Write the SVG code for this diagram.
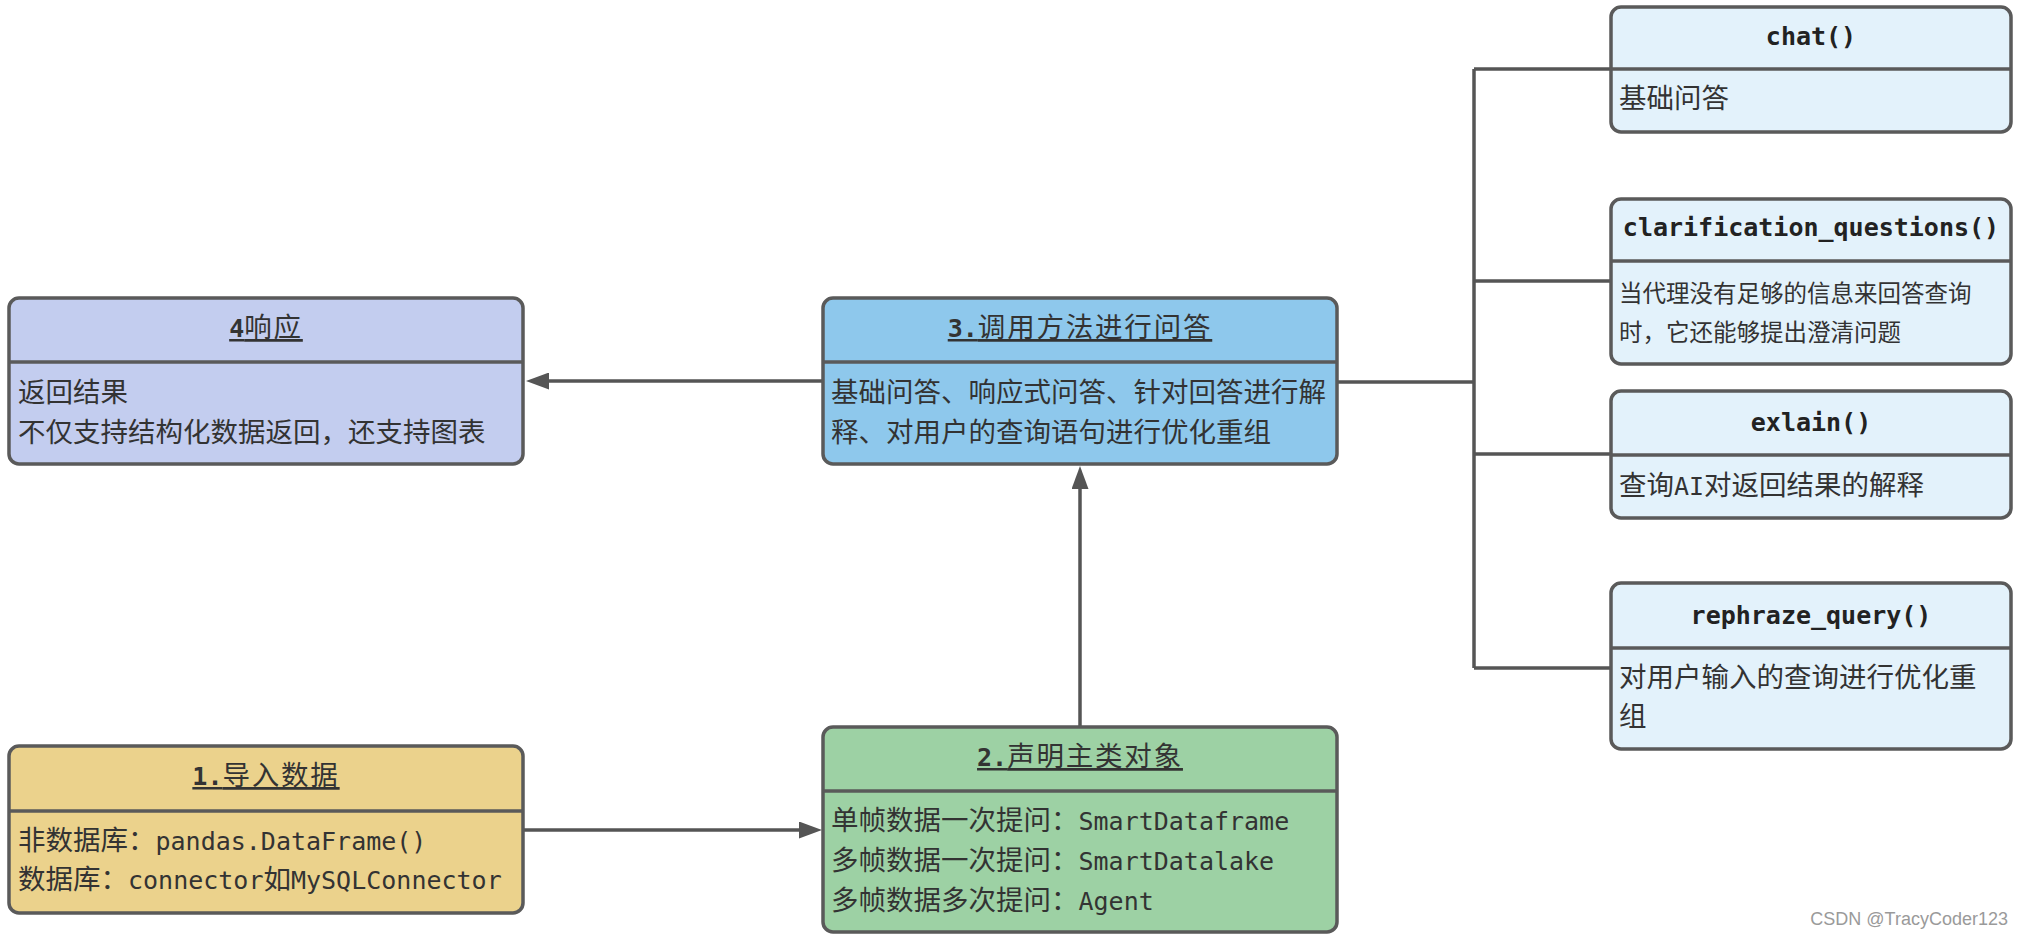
<svg xmlns="http://www.w3.org/2000/svg" width="2024" height="938" viewBox="0 0 2024 938">
<style>
  .box { stroke: #5a5a5a; stroke-width: 3.5; }
  .div { stroke: #5a5a5a; stroke-width: 3.5; }
  .blue4 { fill: #c3cdef; }
  .blue3 { fill: #8ec8ec; }
  .yellow { fill: #ebd28c; }
  .green { fill: #9dd1a4; }
  .light { fill: #e3f2fb; }
  text { font-family: "Noto Sans CJK SC", "Noto Sans", sans-serif; fill: #333; }
  .t { font-size: 27.5px; letter-spacing: 1.8px; text-decoration: underline; }
  .b { font-size: 27.5px; }
  .bs { font-size: 23.5px; }
  .m { font-family: "DejaVu Sans Mono", "Liberation Mono", monospace; font-size: 25px; }
  .mb { font-family: "DejaVu Sans Mono", "Liberation Mono", monospace; font-size: 25px; font-weight: bold; letter-spacing: 0; }
  .rt { font-family: "DejaVu Sans Mono", "Liberation Mono", monospace; font-size: 25px; font-weight: bold; fill: #222; }
  .wm { font-family: "Liberation Sans", Arial, sans-serif; font-size: 18px; fill: #9a9a9a; }
  .conn { fill: none; stroke: #555; stroke-width: 3.5; }
</style>
<defs>
  <marker id="arrow" viewBox="0 0 23 17" markerWidth="23" markerHeight="17" refX="0" refY="8.5" orient="auto" markerUnits="userSpaceOnUse">
    <path d="M0,0 L23,8.5 L0,17 z" fill="#555"/>
  </marker>
</defs>
<rect width="2024" height="938" fill="#ffffff"/>

<g id="connectors">
  <path class="conn" d="M823,381 H549" marker-end="url(#arrow)"/>
  <path class="conn" d="M524,830 H799" marker-end="url(#arrow)"/>
  <path class="conn" d="M1080,727 V489" marker-end="url(#arrow)"/>
  <path class="conn" d="M1337,382 H1474"/>
  <path class="conn" d="M1474,69 V668"/>
  <path class="conn" d="M1474,69 H1611"/>
  <path class="conn" d="M1474,281 H1611"/>
  <path class="conn" d="M1474,454 H1611"/>
  <path class="conn" d="M1474,668 H1611"/>
</g>

<g id="node-response">
  <rect class="box blue4" x="9" y="298" width="514" height="166" rx="10"/>
  <line class="div" x1="9" y1="362" x2="523" y2="362"/>
  <text class="t" x="266" y="337" text-anchor="middle"><tspan class="mb">4</tspan>响应</text>
  <text class="b" x="18" y="402">返回结果</text>
  <text class="b" x="18" y="442">不仅支持结构化数据返回，还支持图表</text>
</g>

<g id="node-call">
  <rect class="box blue3" x="823" y="298" width="514" height="166" rx="10"/>
  <line class="div" x1="823" y1="362" x2="1337" y2="362"/>
  <text class="t" x="1080" y="337" text-anchor="middle"><tspan class="mb">3.</tspan>调用方法进行问答</text>
  <text class="b" x="831" y="402">基础问答、响应式问答、针对回答进行解</text>
  <text class="b" x="831" y="442">释、对用户的查询语句进行优化重组</text>
</g>

<g id="node-import">
  <rect class="box yellow" x="9" y="746" width="514" height="167" rx="10"/>
  <line class="div" x1="9" y1="811" x2="523" y2="811"/>
  <text class="t" x="266" y="785" text-anchor="middle"><tspan class="mb">1.</tspan>导入数据</text>
  <text class="b" x="18" y="850">非数据库：<tspan class="m">pandas.DataFrame()</tspan></text>
  <text class="b" x="18" y="889">数据库：<tspan class="m">connector</tspan>如<tspan class="m">MySQLConnector</tspan></text>
</g>

<g id="node-declare">
  <rect class="box green" x="823" y="727" width="514" height="205" rx="10"/>
  <line class="div" x1="823" y1="791" x2="1337" y2="791"/>
  <text class="t" x="1080" y="766" text-anchor="middle"><tspan class="mb">2.</tspan>声明主类对象</text>
  <text class="b" x="831" y="830">单帧数据一次提问：<tspan class="m">SmartDataframe</tspan></text>
  <text class="b" x="831" y="870">多帧数据一次提问：<tspan class="m">SmartDatalake</tspan></text>
  <text class="b" x="831" y="910">多帧数据多次提问：<tspan class="m">Agent</tspan></text>
</g>

<g id="node-chat">
  <rect class="box light" x="1611" y="7" width="400" height="125" rx="10"/>
  <line class="div" x1="1611" y1="69" x2="2011" y2="69"/>
  <text class="rt" x="1811" y="45" text-anchor="middle">chat()</text>
  <text class="b" x="1619" y="108">基础问答</text>
</g>

<g id="node-clarification">
  <rect class="box light" x="1611" y="199" width="400" height="165" rx="10"/>
  <line class="div" x1="1611" y1="261" x2="2011" y2="261"/>
  <text class="rt" x="1811" y="236" text-anchor="middle">clarification_questions()</text>
  <text class="bs" x="1619" y="302">当代理没有足够的信息来回答查询</text>
  <text class="bs" x="1619" y="341">时，它还能够提出澄清问题</text>
</g>

<g id="node-explain">
  <rect class="box light" x="1611" y="391" width="400" height="127" rx="10"/>
  <line class="div" x1="1611" y1="455" x2="2011" y2="455"/>
  <text class="rt" x="1811" y="431" text-anchor="middle">exlain()</text>
  <text class="b" x="1619" y="495">查询<tspan class="m">AI</tspan>对返回结果的解释</text>
</g>

<g id="node-rephrase">
  <rect class="box light" x="1611" y="583" width="400" height="166" rx="10"/>
  <line class="div" x1="1611" y1="648" x2="2011" y2="648"/>
  <text class="rt" x="1811" y="624" text-anchor="middle">rephraze_query()</text>
  <text class="b" x="1619" y="687">对用户输入的查询进行优化重</text>
  <text class="b" x="1619" y="726">组</text>
</g>

<text class="wm" x="2008" y="925" text-anchor="end">CSDN @TracyCoder123</text>
</svg>
